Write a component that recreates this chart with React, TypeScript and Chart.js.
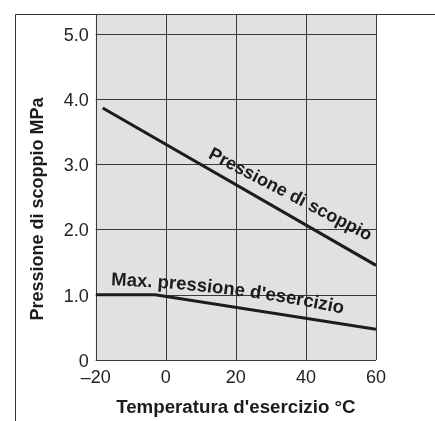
import React, { useEffect, useRef } from "react";
import { Chart, registerables } from "chart.js";

Chart.register(...registerables);

const burstTemps = [-18, 60];
const burstValues = [3.86, 1.45];
const maxTemps = [-20, -3, 60];
const maxValues = [1.0, 1.0, 0.47];
const xTicks = [-20, 0, 20, 40, 60];
const yTicks = [0, 1, 2, 3, 4, 5];
const xTitle = "Temperatura d'esercizio °C";
const yTitle = "Pressione di scoppio MPa";
const burstLabel = "Pressione di scoppio";
const maxLabel = "Max. pressione d'esercizio";

const FONT = "'Liberation Sans', Arial, Helvetica, sans-serif";
const INK = "#1c1c1c";
const GRID = "#3a3a3a";

const decorPlugin = {
  id: "decor",
  beforeDatasetsDraw(chart: any) {
    const { ctx, chartArea, scales } = chart;
    const xs = scales.x;
    const ys = scales.y;
    const { left, right, top, bottom } = chartArea;
    ctx.save();
    ctx.fillStyle = "#e1e1e3";
    ctx.fillRect(left, top, right - left, bottom - top);
    ctx.strokeStyle = GRID;
    ctx.lineWidth = 1;
    ctx.beginPath();
    xTicks.forEach((v) => {
      const px = Math.round(xs.getPixelForValue(v)) + 0.5;
      ctx.moveTo(px, top);
      ctx.lineTo(px, bottom);
    });
    yTicks.forEach((v) => {
      const py = Math.round(ys.getPixelForValue(v)) + 0.5;
      ctx.moveTo(left, py);
      ctx.lineTo(right, py);
    });
    ctx.stroke();
    ctx.restore();
  },
  afterDraw(chart: any) {
    const { ctx, chartArea, scales } = chart;
    const xs = scales.x;
    const ys = scales.y;
    ctx.save();
    // outer frame
    ctx.strokeStyle = "#333";
    ctx.lineWidth = 1;
    ctx.beginPath();
    ctx.moveTo(15.5, 421);
    ctx.lineTo(15.5, 14.5);
    ctx.lineTo(435, 14.5);
    ctx.stroke();

    ctx.fillStyle = INK;
    // x title
    ctx.font = `bold 18px ${FONT}`;
    ctx.textAlign = "center";
    ctx.textBaseline = "middle";
    ctx.save();
    ctx.translate((chartArea.left + chartArea.right) / 2, 408);
    ctx.scale(1.04, 1);
    ctx.fillText(xTitle, 0, 0);
    ctx.restore();
    // y title
    ctx.save();
    ctx.translate(38, 209);
    ctx.rotate(-Math.PI / 2);
    ctx.fillText(yTitle, 0, 0);
    ctx.restore();

    // burst label (baseline start)
    ctx.save();
    ctx.textAlign = "left";
    ctx.textBaseline = "alphabetic";
    ctx.translate(xs.getPixelForValue(11.9), ys.getPixelForValue(3.1));
    ctx.rotate((27.4 * Math.PI) / 180);
    ctx.fillText(burstLabel, 0, 0);
    ctx.restore();

    // max label along a gently curving baseline
    ctx.save();
    ctx.font = `bold 18.5px ${FONT}`;
    ctx.textAlign = "left";
    ctx.textBaseline = "alphabetic";
    const total = ctx.measureText(maxLabel).width;
    let px = xs.getPixelForValue(-15.6);
    let py = ys.getPixelForValue(1.145);
    let s = 0;
    const a0 = 2;
    const a1 = 12;
    for (const ch of maxLabel) {
      const w = ctx.measureText(ch).width;
      const ang = ((a0 + (a1 - a0) * ((s + w / 2) / total)) * Math.PI) / 180;
      ctx.save();
      ctx.translate(px, py);
      ctx.rotate(ang);
      ctx.fillText(ch, 0, 0);
      ctx.restore();
      px += w * Math.cos(ang);
      py += w * Math.sin(ang);
      s += w;
    }
    ctx.restore();

    ctx.restore();
  },
};

export default function App() {
  const ref = useRef<HTMLCanvasElement>(null);
  useEffect(() => {
    if (!ref.current) return;
    const chart = new Chart(ref.current, {
      type: "line",
      data: {
        datasets: [
          {
            data: burstTemps.map((t, i) => ({ x: t, y: burstValues[i] })),
            borderColor: INK,
            borderWidth: 3,
            pointRadius: 0,
            fill: false,
          },
          {
            data: maxTemps.map((t, i) => ({ x: t, y: maxValues[i] })),
            borderColor: INK,
            borderWidth: 3,
            pointRadius: 0,
            fill: false,
          },
        ],
      },
      options: {
        animation: false,
        responsive: false,
        devicePixelRatio: 1,
        layout: { padding: { left: 0, top: 14, right: 59, bottom: 0 } },
        plugins: { legend: { display: false }, tooltip: { enabled: false }, title: { display: false } },
        scales: {
          x: {
            type: "linear",
            min: -20,
            max: 60,
            afterBuildTicks: (s: any) => {
              s.ticks = xTicks.map((v) => ({ value: v }));
            },
            afterFit: (s: any) => {
              s.height = 61;
              s.paddingLeft = 0;
              s.paddingRight = 0;
            },
            grid: { display: false, drawTicks: false },
            border: { display: false },
            ticks: {
              padding: 7,
              color: "#222",
              font: { family: FONT, size: 18 },
              maxRotation: 0,
              callback: (v: any) => (Number(v) < 0 ? "\u2013" + Math.abs(Number(v)) : String(v)),
            },
          },
          y: {
            type: "linear",
            min: 0,
            max: 5.3,
            afterBuildTicks: (s: any) => {
              s.ticks = yTicks.map((v) => ({ value: v }));
            },
            afterFit: (s: any) => {
              s.width = 95.7;
              s.paddingTop = 0;
              s.paddingBottom = 0;
            },
            grid: { display: false, drawTicks: false },
            border: { display: false },
            ticks: {
              padding: 7,
              labelOffset: 2,
              color: "#222",
              font: { family: FONT, size: 18 },
              callback: (v: any) => (Number(v) === 0 ? "0" : Number(v).toFixed(1)),
            },
          },
        },
      },
      plugins: [decorPlugin],
    });
    return () => chart.destroy();
  }, []);
  return (
    <div style={{ position: "fixed", left: 0, top: 0, width: 435, height: 421, background: "#fff" }}>
      <canvas ref={ref} width={435} height={421} />
    </div>
  );
}
